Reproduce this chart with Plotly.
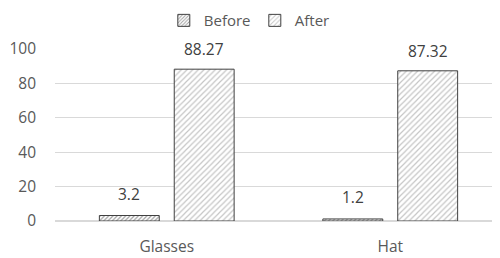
import plotly.graph_objects as go

categories = ["Glasses", "Hat"]
before = [3.2, 1.2]
after = [88.27, 87.32]
series_names = ["Before", "After"]

FONT = "Open Sans, Liberation Sans, sans-serif"

fig = go.Figure()
fig.add_trace(go.Bar(
    name=series_names[0], x=categories, y=before, offsetgroup="b",
    marker=dict(color="white", line=dict(color="#404040", width=1),
                pattern=dict(shape="/", fgcolor="#404040", bgcolor="white", size=3, solidity=0.4)),
))
fig.add_trace(go.Bar(
    name=series_names[1], x=categories, y=after, offsetgroup="a",
    marker=dict(color="white", line=dict(color="#404040", width=1),
                pattern=dict(shape="/", fgcolor="#8c8c8c", bgcolor="white", size=4, solidity=0.3)),
))

# value labels above bars
for series, offset, shift in ((before, -0.5, 9), (after, 0.5, 7)):
    for cat, v in zip(categories, series):
        fig.add_annotation(x=cat, y=v, text=str(v), showarrow=False,
                           xshift=offset * 75, yshift=shift, yanchor="bottom",
                           font=dict(size=15.5, color="#404040", family=FONT))

# page body has an 8px margin, so margins are offset by 8px
fig.update_layout(
    width=500, height=258,
    margin=dict(l=47, r=6, t=41, b=45, autoexpand=False),
    paper_bgcolor="white", plot_bgcolor="white",
    font=dict(family=FONT, color="#595959", size=15.5),
    barmode="group", bargap=0.33, bargroupgap=0.2,
    showlegend=True,
    legend=dict(orientation="h", x=0.447, xanchor="center",
                y=1.165, yanchor="middle", font=dict(size=15, color="#595959"),
                itemwidth=30, tracegroupgap=0, entrywidth=46, entrywidthmode="pixels"),
    xaxis=dict(showgrid=False, showline=False, ticks="", tickfont=dict(size=15.5),
               automargin=False, ticklabelstandoff=14),
    yaxis=dict(range=[0, 100], dtick=20, showgrid=True, gridcolor="#d9d9d9",
               zeroline=True, zerolinecolor="#d9d9d9", ticks="", tickfont=dict(size=15.5),
               ticklabelstandoff=18, automargin=False),
)
fig.write_html("out.html")
